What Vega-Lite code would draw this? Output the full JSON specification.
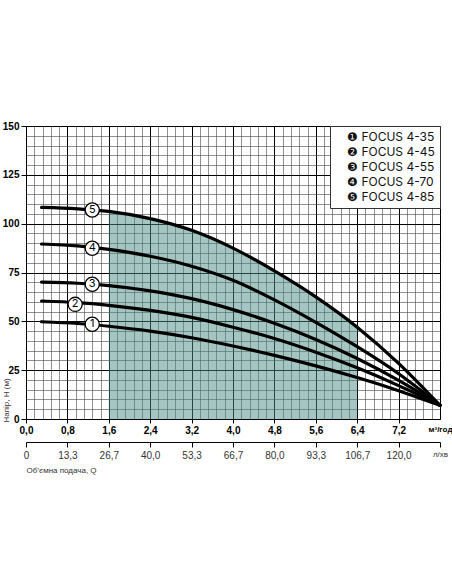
{
  "$schema": "https://vega.github.io/schema/vega-lite/v6.json",
  "autosize": {"type": "none"},
  "width": 414,
  "height": 293,
  "padding": {"left": 26, "top": 126, "right": 12, "bottom": 165},
  "background": "white",
  "config": {
    "font": "Liberation Sans",
    "view": {"stroke": null}
  },
  "datasets": {
    "curves": [
      {"n": 5, "model": "FOCUS 4-85", "q": 0.3, "h": 108.3},
      {"n": 5, "model": "FOCUS 4-85", "q": 1.0, "h": 107.6},
      {"n": 5, "model": "FOCUS 4-85", "q": 1.6, "h": 106.3},
      {"n": 5, "model": "FOCUS 4-85", "q": 2.4, "h": 102.6},
      {"n": 5, "model": "FOCUS 4-85", "q": 3.2, "h": 96.6},
      {"n": 5, "model": "FOCUS 4-85", "q": 4.0, "h": 87.5},
      {"n": 5, "model": "FOCUS 4-85", "q": 4.8, "h": 75.8},
      {"n": 5, "model": "FOCUS 4-85", "q": 5.6, "h": 62.5},
      {"n": 5, "model": "FOCUS 4-85", "q": 6.4, "h": 47.0},
      {"n": 5, "model": "FOCUS 4-85", "q": 7.2, "h": 28.5},
      {"n": 5, "model": "FOCUS 4-85", "q": 8.0, "h": 7.0},
      {"n": 4, "model": "FOCUS 4-70", "q": 0.3, "h": 89.6},
      {"n": 4, "model": "FOCUS 4-70", "q": 1.0, "h": 88.6},
      {"n": 4, "model": "FOCUS 4-70", "q": 1.6, "h": 86.8},
      {"n": 4, "model": "FOCUS 4-70", "q": 2.4, "h": 83.3},
      {"n": 4, "model": "FOCUS 4-70", "q": 3.2, "h": 78.2},
      {"n": 4, "model": "FOCUS 4-70", "q": 4.0, "h": 71.0},
      {"n": 4, "model": "FOCUS 4-70", "q": 4.8, "h": 61.0},
      {"n": 4, "model": "FOCUS 4-70", "q": 5.6, "h": 49.5},
      {"n": 4, "model": "FOCUS 4-70", "q": 6.4, "h": 37.0},
      {"n": 4, "model": "FOCUS 4-70", "q": 7.2, "h": 23.2},
      {"n": 4, "model": "FOCUS 4-70", "q": 8.0, "h": 7.0},
      {"n": 3, "model": "FOCUS 4-55", "q": 0.3, "h": 70.1},
      {"n": 3, "model": "FOCUS 4-55", "q": 1.0, "h": 69.5},
      {"n": 3, "model": "FOCUS 4-55", "q": 1.6, "h": 68.3},
      {"n": 3, "model": "FOCUS 4-55", "q": 2.4, "h": 65.6},
      {"n": 3, "model": "FOCUS 4-55", "q": 3.2, "h": 61.6},
      {"n": 3, "model": "FOCUS 4-55", "q": 4.0, "h": 56.0},
      {"n": 3, "model": "FOCUS 4-55", "q": 4.8, "h": 49.0},
      {"n": 3, "model": "FOCUS 4-55", "q": 5.6, "h": 40.7},
      {"n": 3, "model": "FOCUS 4-55", "q": 6.4, "h": 31.0},
      {"n": 3, "model": "FOCUS 4-55", "q": 7.2, "h": 19.8},
      {"n": 3, "model": "FOCUS 4-55", "q": 8.0, "h": 7.0},
      {"n": 2, "model": "FOCUS 4-45", "q": 0.3, "h": 60.4},
      {"n": 2, "model": "FOCUS 4-45", "q": 1.0, "h": 59.6},
      {"n": 2, "model": "FOCUS 4-45", "q": 1.6, "h": 58.2},
      {"n": 2, "model": "FOCUS 4-45", "q": 2.4, "h": 55.6},
      {"n": 2, "model": "FOCUS 4-45", "q": 3.2, "h": 52.0},
      {"n": 2, "model": "FOCUS 4-45", "q": 4.0, "h": 47.0},
      {"n": 2, "model": "FOCUS 4-45", "q": 4.8, "h": 41.2},
      {"n": 2, "model": "FOCUS 4-45", "q": 5.6, "h": 34.2},
      {"n": 2, "model": "FOCUS 4-45", "q": 6.4, "h": 26.2},
      {"n": 2, "model": "FOCUS 4-45", "q": 7.2, "h": 17.1},
      {"n": 2, "model": "FOCUS 4-45", "q": 8.0, "h": 7.0},
      {"n": 1, "model": "FOCUS 4-35", "q": 0.3, "h": 49.8},
      {"n": 1, "model": "FOCUS 4-35", "q": 1.0, "h": 48.9},
      {"n": 1, "model": "FOCUS 4-35", "q": 1.6, "h": 47.5},
      {"n": 1, "model": "FOCUS 4-35", "q": 2.4, "h": 45.0},
      {"n": 1, "model": "FOCUS 4-35", "q": 3.2, "h": 41.6},
      {"n": 1, "model": "FOCUS 4-35", "q": 4.0, "h": 37.4},
      {"n": 1, "model": "FOCUS 4-35", "q": 4.8, "h": 32.6},
      {"n": 1, "model": "FOCUS 4-35", "q": 5.6, "h": 27.2},
      {"n": 1, "model": "FOCUS 4-35", "q": 6.4, "h": 21.2},
      {"n": 1, "model": "FOCUS 4-35", "q": 7.2, "h": 14.5},
      {"n": 1, "model": "FOCUS 4-35", "q": 8.0, "h": 7.0}
    ],
    "badges": [
      {"n": 5, "q": 1.28, "h": 107.0},
      {"n": 4, "q": 1.28, "h": 87.4},
      {"n": 3, "q": 1.28, "h": 69.0},
      {"n": 2, "q": 0.95, "h": 58.7},
      {"n": 1, "q": 1.28, "h": 48.5}
    ]
  },
  "encoding": {
    "y": {
      "field": "h",
      "type": "quantitative",
      "scale": {"domain": [0, 150], "nice": false},
      "axis": {
        "title": "Напір, Н (м)",
        "titleFontSize": 8,
        "titleFontWeight": "normal",
        "titleColor": "#333",
        "titleAngle": 270,
        "titleAlign": "left",
        "titleBaseline": "middle",
        "titleX": -20,
        "titleY": 296,
        "values": [0, 5, 10, 15, 20, 25, 30, 35, 40, 45, 50, 55, 60, 65, 70, 75, 80, 85, 90, 95, 100, 105, 110, 115, 120, 125, 130, 135, 140, 145, 150],
        "labelExpr": "datum.value % 25 == 0 ? datum.label : ''",
        "labelFontSize": 10,
        "labelFontWeight": "bold",
        "labelColor": "#000",
        "labelPadding": 2,
        "labelOverlap": false,
        "labelBound": false,
        "labelFlush": false,
        "domainColor": "#000",
        "tickColor": "#000",
        "tickSize": 5,
        "tickOpacity": {"condition": {"test": "datum.value % 25 == 0", "value": 1}, "value": 0},
        "grid": true,
        "gridColor": {"condition": {"test": "datum.value % 25 == 0", "value": "#000"}, "value": "#454545"},
        "gridWidth": {"condition": {"test": "datum.value % 25 == 0", "value": 1}, "value": 0.6},
        "gridOpacity": 1
      }
    }
  },
  "layer": [
    {
      "data": {"name": "curves"},
      "transform": [
        {"filter": "datum.n == 5 && datum.q >= 1.6 && datum.q <= 6.4"}
      ],
      "mark": {"type": "area", "interpolate": "monotone", "color": "#4a8b86", "opacity": 0.5},
      "encoding": {
        "x": {
          "field": "q",
          "type": "quantitative",
          "scale": {"domain": [0, 8], "nice": false},
          "axis": {
            "title": null,
            "values": [0, 0.16, 0.32, 0.48, 0.64, 0.8, 0.96, 1.12, 1.28, 1.44, 1.6, 1.76, 1.92, 2.08, 2.24, 2.4, 2.56, 2.72, 2.88, 3.04, 3.2, 3.36, 3.52, 3.68, 3.84, 4, 4.16, 4.32, 4.48, 4.64, 4.8, 4.96, 5.12, 5.28, 5.44, 5.6, 5.76, 5.92, 6.08, 6.24, 6.4, 6.56, 6.72, 6.88, 7.04, 7.2, 7.36, 7.52, 7.68, 7.84, 8],
            "labelExpr": "abs(datum.value / 0.8 - round(datum.value / 0.8)) < 0.01 ? (datum.value > 7.9 ? 'м³/год' : replace(format(datum.value, '.1f'), '.', ',')) : ''",
            "labelFontSize": {"condition": {"test": "datum.value > 7.9", "value": 8}, "value": 10},
            "labelFontWeight": "bold",
            "labelColor": "#000",
            "labelPadding": 2,
            "labelOverlap": false,
            "labelBound": false,
            "labelFlush": false,
            "domainColor": "#000",
            "tickColor": "#000",
            "tickSize": 4,
            "tickOpacity": {"condition": {"test": "abs(datum.value / 0.8 - round(datum.value / 0.8)) < 0.01 && datum.value < 7.9", "value": 1}, "value": 0},
            "grid": true,
            "gridColor": {"condition": {"test": "abs(datum.value / 0.8 - round(datum.value / 0.8)) < 0.01", "value": "#000"}, "value": "#454545"},
            "gridWidth": {"condition": {"test": "abs(datum.value / 0.8 - round(datum.value / 0.8)) < 0.01", "value": 1}, "value": 0.6},
            "gridOpacity": 1
          }
        }
      }
    },
    {
      "data": {"name": "curves"},
      "mark": {"type": "line", "interpolate": "monotone", "strokeWidth": 3.2, "strokeCap": "round"},
      "encoding": {
        "x": {
          "field": "q",
          "type": "quantitative",
          "scale": {"domain": [0, 8], "nice": false},
          "axis": {
            "orient": "bottom",
            "offset": 23,
            "grid": false,
            "title": "Об’ємна подача, Q",
            "titleFontSize": 8,
            "titleFontWeight": "normal",
            "titleColor": "#333",
            "titleAnchor": "start",
            "titlePadding": 6,
            "values": [0, 0.8, 1.6, 2.4, 3.2, 4, 4.8, 5.6, 6.4, 7.2, 8],
            "labelExpr": "datum.value > 7.9 ? 'л/хв' : (datum.value == 0 ? '0' : replace(format(datum.value * 50 / 3, '.1f'), '.', ','))",
            "labelFontSize": {"condition": {"test": "datum.value > 7.9", "value": 8}, "value": 10},
            "labelColor": "#333",
            "labelPadding": 3,
            "labelOverlap": false,
            "labelBound": false,
            "labelFlush": false,
            "domainColor": "#000",
            "tickColor": "#000",
            "tickSize": 5
          }
        },
        "color": {
          "field": "model",
          "type": "nominal",
          "scale": {
            "domain": ["FOCUS 4-35", "FOCUS 4-45", "FOCUS 4-55", "FOCUS 4-70", "FOCUS 4-85"],
            "range": ["#000", "#000", "#000", "#000", "#000"]
          },
          "legend": {
            "title": null,
            "orient": "top-right",
            "offset": 0,
            "fillColor": "white",
            "strokeColor": "#333",
            "padding": 5,
            "symbolSize": 0,
            "symbolStrokeWidth": 0,
            "labelOffset": 0,
            "rowPadding": 3,
            "labelFont": "Inter",
            "labelFontSize": 12,
            "labelColor": "#111",
            "labelExpr": "['❶', '❷', '❸', '❹', '❺'][indexof(['FOCUS 4-35', 'FOCUS 4-45', 'FOCUS 4-55', 'FOCUS 4-70', 'FOCUS 4-85'], datum.label)] + ' ' + datum.label"
          }
        }
      }
    },
    {
      "data": {"name": "badges"},
      "mark": {"type": "point", "shape": "circle", "size": 200, "filled": true, "fill": "white", "stroke": "#000", "strokeWidth": 1.3, "opacity": 1},
      "encoding": {
        "x": {"field": "q", "type": "quantitative", "scale": {"domain": [0, 8], "nice": false}, "axis": null}
      }
    },
    {
      "data": {"name": "badges"},
      "mark": {"type": "text", "fontSize": 11, "font": "Inter", "color": "#000", "align": "center", "baseline": "middle"},
      "encoding": {
        "x": {"field": "q", "type": "quantitative", "scale": {"domain": [0, 8], "nice": false}, "axis": null},
        "text": {"field": "n", "type": "nominal"}
      }
    }
  ],
  "resolve": {"axis": {"x": "independent"}}
}
